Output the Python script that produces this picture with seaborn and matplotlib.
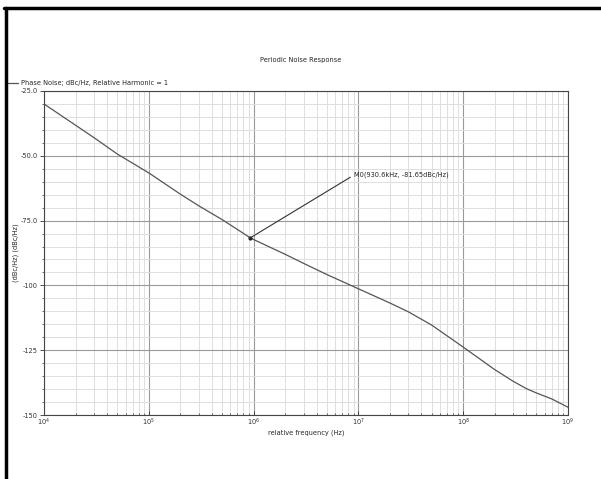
import numpy as np
import pandas as pd
import seaborn as sns
import matplotlib.pyplot as plt
from matplotlib.lines import Line2D
from matplotlib.ticker import LogLocator, MultipleLocator, NullFormatter

# data
freq = [1e4, 2e4, 3e4, 5e4, 1e5, 2e5, 3e5, 5e5, 9.306e5, 1e6, 2e6, 3e6, 5e6,
        1e7, 2e7, 3e7, 5e7, 1e8, 2e8, 3e8, 4e8, 5e8, 7e8, 1e9]
noise = [-30.0, -38.2, -43.0, -49.3, -56.6, -64.8, -69.3, -74.6, -81.65, -82.3,
         -88.0, -91.5, -95.8, -101.3, -106.8, -110.2, -115.3, -123.8, -132.5,
         -137.0, -139.8, -141.5, -143.8, -147.0]
marker_f = 930.6e3
marker_v = -81.65
y_ticks = [-25, -50, -75, -100, -125, -150]
y_labels = ["-25.0", "-50.0", "-75.0", "-100", "-125", "-150"]

df = pd.DataFrame({"freq": freq, "noise": noise})

sns.set_style("white")
plt.rcParams["font.family"] = ["DejaVu Sans"]
fs = 4.8

fig = plt.figure(figsize=(6.01, 4.79), dpi=100)
ax = fig.add_axes([44 / 601, 1 - 415 / 479, 524 / 601, 324 / 479])

sns.lineplot(data=df, x="freq", y="noise", ax=ax, color="#555555", linewidth=0.9,
             label="Phase Noise; dBc/Hz, Relative Harmonic = 1")

ax.set_xscale("log")
ax.set_xlim(1e4, 1e9)
ax.set_ylim(-150, -25)

ax.xaxis.set_major_locator(LogLocator(base=10, numticks=10))
ax.xaxis.set_minor_locator(LogLocator(base=10, subs=np.arange(2, 10), numticks=20))
ax.xaxis.set_minor_formatter(NullFormatter())
ax.set_yticks(y_ticks)
ax.set_yticklabels(y_labels)
ax.yaxis.set_minor_locator(MultipleLocator(5))

ax.grid(True, which="major", color="#9a9a9a", linewidth=0.8)
ax.grid(True, which="minor", color="#dedede", linewidth=0.7)
ax.set_axisbelow(True)

ax.tick_params(axis="both", which="major", labelsize=fs, length=3, width=0.6, pad=1.5,
               colors="#333333")
ax.tick_params(axis="y", which="both", direction="out", left=True)
ax.tick_params(axis="x", which="both", direction="in", bottom=True)
ax.tick_params(axis="both", which="minor", length=1.5, width=0.5, colors="#333333")
for s in ax.spines.values():
    s.set_color("#444444")
    s.set_linewidth(0.8)

ax.set_xlabel("relative frequency (Hz)", fontsize=fs, labelpad=1)
ax.set_ylabel("(dBc/Hz) (dBc/Hz)", fontsize=fs, labelpad=1)
fig.text(0.5, 1 - 60 / 479, "Periodic Noise Response", ha="center", va="center", fontsize=fs)

ax.legend(loc="center left", bbox_to_anchor=(8 / 601, 1 - 83 / 479),
          bbox_transform=fig.transFigure, frameon=False, fontsize=fs,
          handlelength=1.5, handletextpad=0.4, borderaxespad=0, borderpad=0)

# marker annotation
ax.plot([marker_f], [marker_v], marker="o", markersize=2, color="#222222")
ax.annotate("M0(930.6kHz, -81.65dBc/Hz)", xy=(marker_f, marker_v),
            xytext=(9.0e6, -57.5), fontsize=fs, va="center", ha="left",
            arrowprops=dict(arrowstyle="-", color="#333333", lw=0.8,
                            shrinkA=0, shrinkB=0, relpos=(0, 0.5)))

# black frame on top and left edge of the image
fig.add_artist(Line2D([4 / 601, 1], [1 - 8 / 479, 1 - 8 / 479],
                      transform=fig.transFigure, color="black", linewidth=2.5))
fig.add_artist(Line2D([5.5 / 601, 5.5 / 601], [0, 1 - 8 / 479],
                      transform=fig.transFigure, color="black", linewidth=2.5))

fig.savefig("out.png", dpi=100)
